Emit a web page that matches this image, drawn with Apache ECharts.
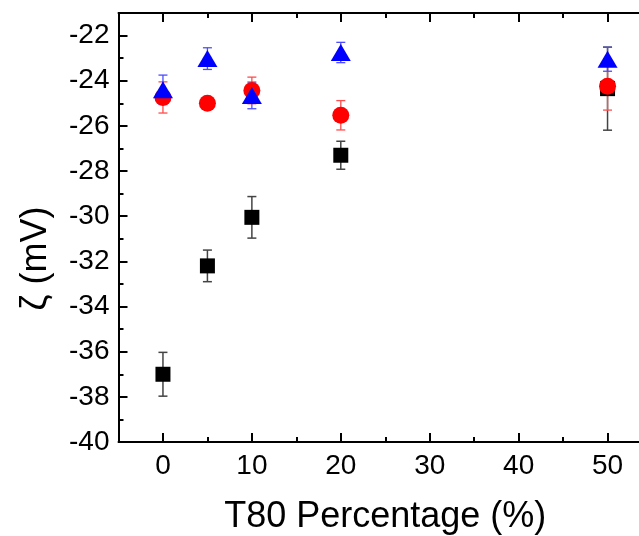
<!DOCTYPE html>
<html>
<head>
<meta charset="utf-8">
<script src="https://cdn.jsdelivr.net/npm/echarts@6/dist/echarts.min.js"></script>
<style>
  html, body { margin: 0; padding: 0; background: #fff; }
  #chart { width: 639px; height: 536px; }
</style>
</head>
<body>
<div id="chart"></div>
<script>
// T80 percentage (%) for each sample
const t80 = [0, 5, 10, 20, 50];

// Zeta potential (mV) and standard deviations for three formulations
const blackZeta = [-37.0, -32.2, -30.05, -27.3, -24.35];
const blackErr  = [0.97, 0.7, 0.92, 0.62, 1.84];
const redZeta   = [-24.74, -25.0, -24.43, -25.53, -24.24];
const redErr    = [0.69, 0.2, 0.59, 0.65, 1.06];
const blueZeta  = [-24.4, -23.02, -24.65, -22.75, -23.05];
const blueErr   = [0.65, 0.48, 0.59, 0.45, 0.53];

// Axis ticks
const xMajor = [0, 10, 20, 30, 40, 50];
const xMinor = [5, 15, 25, 35, 45];

const FONT = 'Liberation Sans, Arial, sans-serif';

function points(vals) {
  return t80.map((x, i) => [x, vals[i]]);
}
function bars(vals, errs) {
  return t80.map((x, i) => [x, vals[i] - errs[i], vals[i] + errs[i]]);
}
function errorSeries(vals, errs, color, capHalf, width) {
  return {
    type: 'custom',
    xAxisIndex: 0,
    yAxisIndex: 0,
    data: bars(vals, errs),
    encode: { x: 0, y: [1, 2] },
    renderItem: function (params, api) {
      const x = api.value(0);
      const lo = api.coord([x, api.value(1)]);
      const hi = api.coord([x, api.value(2)]);
      const style = { stroke: color, lineWidth: width, fill: null };
      return {
        type: 'group',
        children: [
          { type: 'line', shape: { x1: lo[0], y1: lo[1], x2: hi[0], y2: hi[1] }, style: style },
          { type: 'line', shape: { x1: lo[0] - capHalf, y1: lo[1], x2: lo[0] + capHalf, y2: lo[1] }, style: style },
          { type: 'line', shape: { x1: hi[0] - capHalf, y1: hi[1], x2: hi[0] + capHalf, y2: hi[1] }, style: style }
        ]
      };
    },
    silent: true
  };
}

const xBase = { type: 'value', min: -5, max: 55, splitLine: { show: false } };
const axisLineStyle = { show: true, onZero: false, lineStyle: { color: '#000', width: 2 } };

const chart = echarts.init(document.getElementById('chart'), null, { renderer: 'canvas' });
chart.setOption({
  backgroundColor: '#fff',
  animation: false,
  grid: { left: 118.5, top: 13, right: -13, bottom: 94, outerBoundsMode: 'none', containLabel: false },
  xAxis: [
    Object.assign({}, xBase, {
      position: 'bottom',
      name: 'T80 Percentage (%)',
      nameLocation: 'middle',
      nameGap: 57,
      nameMoveOverlap: false,
      nameTextStyle: { fontSize: 36, color: '#000', fontFamily: FONT },
      axisLine: axisLineStyle,
      axisTick: { show: true, inside: true, length: 9, customValues: xMajor, lineStyle: { color: '#000', width: 2 } },
      axisLabel: { show: true, customValues: xMajor, margin: 10, fontSize: 28, color: '#000', fontFamily: FONT }
    }),
    Object.assign({}, xBase, {
      position: 'bottom',
      axisLine: { show: false },
      axisTick: { show: true, inside: true, length: 5, customValues: xMinor, lineStyle: { color: '#000', width: 2 } },
      axisLabel: { show: false }
    }),
    Object.assign({}, xBase, {
      position: 'top',
      axisLine: axisLineStyle,
      axisTick: { show: true, inside: true, length: 9, customValues: xMajor, lineStyle: { color: '#000', width: 2 } },
      axisLabel: { show: false }
    }),
    Object.assign({}, xBase, {
      position: 'top',
      axisLine: { show: false },
      axisTick: { show: true, inside: true, length: 5, customValues: xMinor, lineStyle: { color: '#000', width: 2 } },
      axisLabel: { show: false }
    })
  ],
  yAxis: [{
    type: 'value',
    position: 'left',
    min: -40,
    max: -21,
    interval: 2,
    name: 'ζ (mV)',
    nameLocation: 'middle',
    nameGap: 64,
    nameMoveOverlap: false,
    nameTextStyle: { fontSize: 36, color: '#000', fontFamily: FONT, padding: [0, 62, 0, 0] },
    splitLine: { show: false },
    axisLine: axisLineStyle,
    axisTick: { show: true, inside: true, length: 9, lineStyle: { color: '#000', width: 2 } },
    minorTick: { show: true, splitNumber: 2, length: 5, lineStyle: { color: '#000', width: 2 } },
    axisLabel: {
      margin: 9, fontSize: 28, color: '#000', fontFamily: FONT,
      formatter: function (v) { return (v % 2 === 0) ? String(v) : ''; }
    }
  }],
  series: [
    errorSeries(blackZeta, blackErr, '#444', 4.5, 1.5),
    {
      type: 'scatter', data: points(blackZeta), symbol: 'rect', symbolSize: 15,
      itemStyle: { color: '#000', opacity: 1 }, silent: true
    },
    errorSeries(redZeta, redErr, '#ff4d4d', 4.5, 1.3),
    {
      type: 'scatter', data: points(redZeta), symbol: 'circle', symbolSize: 17,
      itemStyle: { color: '#ff0000', opacity: 1 }, silent: true
    },
    errorSeries(blueZeta, blueErr, '#4d4dff', 4.5, 1.3),
    {
      type: 'scatter', data: points(blueZeta), symbol: 'triangle', symbolSize: [20, 17],
      itemStyle: { color: '#0000ff', opacity: 1 }, silent: true
    }
  ]
});
</script>
</body>
</html>
